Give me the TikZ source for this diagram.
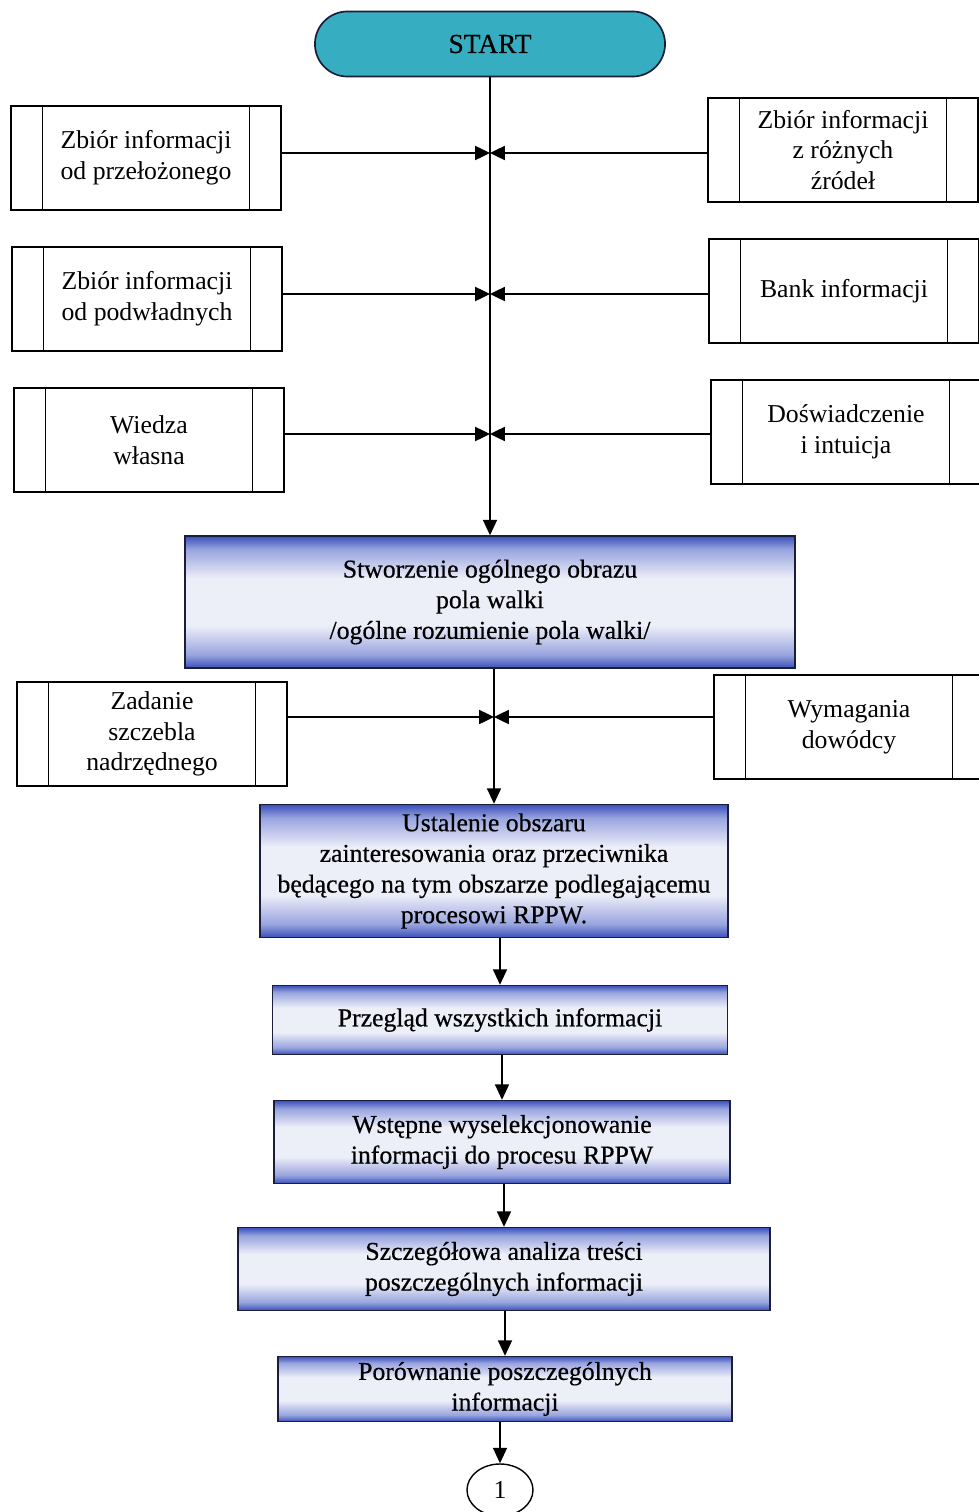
\documentclass[tikz,border=0pt]{standalone}
\usepackage{fontspec}
\setmainfont{Liberation Serif}
\newfontfamily\stagefont[FakeBold=0.5]{Liberation Serif}
\usetikzlibrary{arrows.meta,shapes.geometric}

\definecolor{startfill}{HTML}{36ADC0}
\definecolor{bdark}{HTML}{3A4FBA}
\definecolor{bmid}{HTML}{98A4DE}
\definecolor{blight}{HTML}{ECEEF8}
\definecolor{edge}{HTML}{1A1E3A}
\pgfdeclareverticalshading{bluefade}{100bp}{color(0bp)=(bdark); color(25bp)=(bdark); color(30bp)=(bmid); color(41bp)=(blight); color(59bp)=(blight); color(70bp)=(bmid); color(75bp)=(bdark); color(100bp)=(bdark)}

\tikzset{
  txt/.style={font=\fontsize{18.3}{21.8}\selectfont, align=center, text=black, inner sep=0pt},
  source/.style={txt, draw, line width=1pt, minimum width=6.75cm, minimum height=2.6cm},
  stage/.style={txt, font=\stagefont\fontsize{18.3}{21.8}\selectfont, draw=edge, line width=1pt, shading=bluefade},
  flow/.style={line width=1pt, -{Triangle[length=11pt,width=10pt]}},
  feed/.style={line width=1pt, -{Triangle[length=10.5pt,width=10pt]}}
}

\begin{document}
\begin{tikzpicture}[x=0.025cm, y=-0.025cm]
  \clip (0,0) rectangle (979,1512);
  \fill[white] (0,0) rectangle (979,1512);

  % start terminator
  \node[txt, font=\stagefont\fontsize{19.5}{22}\selectfont, draw=edge, line width=1.2pt,
        fill=startfill, rounded corners=0.81cm,
        minimum width=8.75cm, minimum height=1.625cm] (start) at (490,44) {START};

  % information sources
  \node[source] (L1) at (146,158) {Zbiór informacji\\od przełożonego};
  \node[source] (R1) at (843,150) {Zbiór informacji\\z różnych\\źródeł};
  \node[source] (L2) at (147,299) {Zbiór informacji\\od podwładnych};
  \node[source] (R2) at (844,291) {Bank informacji};
  \node[source] (L3) at (149,440) {Wiedza\\własna};
  \node[source] (R3) at (846,432) {Doświadczenie\\i intuicja};
  \node[source] (L4) at (152,734) {Zadanie\\szczebla\\nadrzędnego};
  \node[source] (R4) at (849,727) {Wymagania\\dowódcy};

  % side bars of the predefined-process boxes
  \foreach \n in {L1,R1,L2,R2,L3,R3,L4,R4}
    \draw[line width=1pt]
      ([xshift=0.8cm]\n.north west) -- ([xshift=0.8cm]\n.south west)
      ([xshift=-0.8cm]\n.north east) -- ([xshift=-0.8cm]\n.south east);

  % process stages
  \node[stage, minimum width=15.25cm, minimum height=3.3cm] (b1) at (490,602)
    {Stworzenie ogólnego obrazu\\pola walki\\/ogólne rozumienie pola walki/};
  \node[stage, minimum width=11.7cm, minimum height=3.325cm] (b2) at (494,871)
    {Ustalenie obszaru\\zainteresowania oraz przeciwnika\\będącego na tym obszarze podlegającemu\\procesowi RPPW.};
  \node[stage, minimum width=11.375cm, minimum height=1.725cm] (b3) at (500,1020)
    {Przegląd wszystkich informacji};
  \node[stage, minimum width=11.4cm, minimum height=2.075cm] (b4) at (502,1142)
    {Wstępne wyselekcjonowanie\\informacji do procesu RPPW};
  \node[stage, minimum width=13.3cm, minimum height=2.075cm] (b5) at (504,1269)
    {Szczegółowa analiza treści\\poszczególnych informacji};
  \node[stage, minimum width=11.35cm, minimum height=1.625cm] (b6) at (505,1389)
    {Porównanie poszczególnych\\informacji};

  % off-page connector
  \node[txt, draw, ellipse, line width=1pt, minimum width=1.65cm, minimum height=1.3cm]
    (c1) at (500,1490) {1};

  % junction points on the main line
  \coordinate (j1) at (490,153);
  \coordinate (j2) at (490,294);
  \coordinate (j3) at (490,434);
  \coordinate (j4) at (494,717);

  % main flow
  \draw[flow] (start) -- (b1);
  \draw[flow] (b1.south -| b2.north) -- (b2.north);
  \draw[flow] (b2.south -| b3.north) -- (b3.north);
  \draw[flow] (b3.south -| b4.north) -- (b4.north);
  \draw[flow] (b4.south -| b5.north) -- (b5.north);
  \draw[flow] (b5.south -| b6.north) -- (b6.north);
  \draw[flow] (b6.south -| c1.north) -- (c1.north);

  % inputs joining the main line
  \draw[feed] (L1.east |- j1) -- (j1);
  \draw[feed] (R1.west |- j1) -- (j1);
  \draw[feed] (L2.east |- j2) -- (j2);
  \draw[feed] (R2.west |- j2) -- (j2);
  \draw[feed] (L3.east |- j3) -- (j3);
  \draw[feed] (R3.west |- j3) -- (j3);
  \draw[feed] (L4.east |- j4) -- (j4);
  \draw[feed] (R4.west |- j4) -- (j4);
\end{tikzpicture}
\end{document}
